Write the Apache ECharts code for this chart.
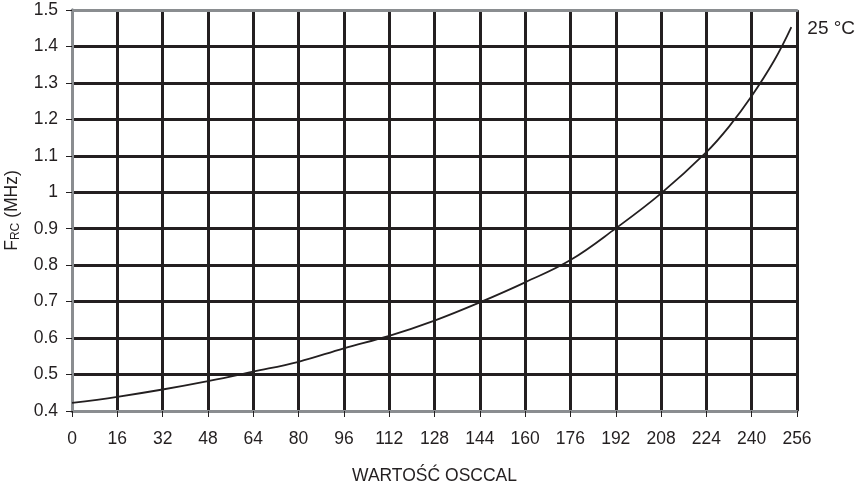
<!DOCTYPE html>
<html>
<head>
<meta charset="utf-8">
<script src="https://cdn.jsdelivr.net/npm/echarts@6/dist/echarts.min.js"></script>
<style>html,body{margin:0;padding:0;background:#fff}#c{width:861px;height:487px}</style>
</head>
<body>
<div id="c"></div>
<script>
var xValues = [0, 16, 32, 48, 64, 80, 96, 112, 128, 144, 160, 176, 192, 208, 224, 232, 240, 248, 254];
var freqMHz = [0.422, 0.439, 0.459, 0.482, 0.508, 0.535, 0.572, 0.606, 0.648, 0.698, 0.753, 0.814, 0.901, 0.997, 1.110, 1.180, 1.264, 1.362, 1.453];
var seriesLabel = '25 °C';
var xTitle = 'WARTOŚĆ OSCCAL';

var FONT = '"Liberation Sans", Arial, sans-serif';
var INK = '#231f20';
var BORDER = '#8a8d90';

var chart = echarts.init(document.getElementById('c'), null, {renderer: 'canvas'});
var data = xValues.map(function (x, i) { return [x, freqMHz[i]]; });

chart.setOption({
  animation: false,
  backgroundColor: '#ffffff',
  grid: {left: 72, right: 64, top: 10, bottom: 76, show: false, containLabel: false, outerBoundsMode: 'none'},
  xAxis: [{
    type: 'value', min: 0, max: 256, interval: 16,
    name: xTitle, nameLocation: 'middle', nameGap: 56,
    nameTextStyle: {fontFamily: FONT, fontSize: 17.5, color: INK},
    axisLine: {show: true, onZero: false, lineStyle: {color: BORDER, width: 3}},
    axisTick: {show: true, length: 6, lineStyle: {color: INK, width: 1}},
    axisLabel: {fontFamily: FONT, fontSize: 17.5, color: INK, margin: 19},
    splitLine: {show: true, lineStyle: {color: INK, width: 3}}
  }, {
    type: 'value', min: 0, max: 256, position: 'top',
    axisLine: {show: true, lineStyle: {color: BORDER, width: 3}},
    axisTick: {show: false}, axisLabel: {show: false}, splitLine: {show: false}
  }],
  yAxis: [{
    type: 'value', min: 0.4, max: 1.5, interval: 0.1,
    name: '{m|F}{s|RC}{m| (MHz)}', nameLocation: 'middle', nameGap: 50, nameRotate: 90,
    nameTextStyle: {
      rich: {
        m: {fontFamily: FONT, fontSize: 17.5, color: INK},
        s: {fontFamily: FONT, fontSize: 12, color: INK, verticalAlign: 'bottom', padding: [8, 0, 0, 0]}
      }
    },
    axisLine: {show: true, onZero: false, lineStyle: {color: BORDER, width: 3}},
    axisTick: {show: true, length: 6, lineStyle: {color: INK, width: 1}},
    axisLabel: {fontFamily: FONT, fontSize: 17.5, color: INK, margin: 14,
      formatter: function (v) { return String(Math.round(v * 10) / 10); }},
    splitLine: {show: true, lineStyle: {color: INK, width: 3}}
  }, {
    type: 'value', min: 0.4, max: 1.5, position: 'right',
    axisLine: {show: true, lineStyle: {color: BORDER, width: 3}},
    axisTick: {show: false}, axisLabel: {show: false}, splitLine: {show: false}
  }],
  series: [{
    type: 'line', data: data, smooth: 0.4, showSymbol: false,
    lineStyle: {color: INK, width: 1.8},
    z: 5,
    endLabel: {show: true, formatter: seriesLabel, fontFamily: FONT, fontSize: 19, color: INK, offset: [8, 2]}
  }]
});
</script>
</body>
</html>
